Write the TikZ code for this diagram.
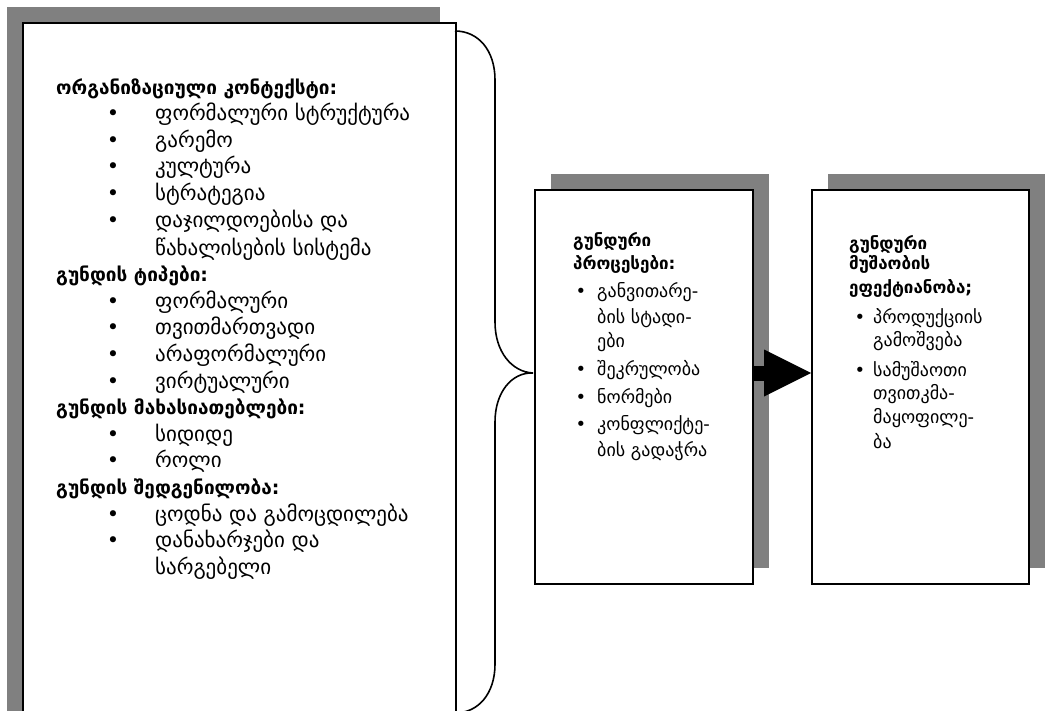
\documentclass[tikz,border=0pt]{standalone}
\usepackage{fontspec}
\setmainfont{DejaVu Sans}
\usetikzlibrary{calc,shadows,arrows.meta}
\definecolor{shadowgray}{RGB}{128,128,128}
\newcommand*{\LineColumn}[3]{% #1 = list of y/text, #2 = x, #3 = name
\foreach \y/\text [count=\i] in {#1} {
\node [textline] (#3-\i)
at (#2,\y) {\text};
}%
}
\newcommand*{\BulletColumn}[3]{% #1 = list of y, #2 = x, #3 = name
\foreach \y [count=\i] in {#1} {
\node [dot] (#3-\i)
at (#2,\y) {\textbullet};
}%
}

\begin{document}
\begin{tikzpicture}[x=1pt,y=-1pt,
    box/.style={draw, line width=2pt, fill=white, anchor=north west, inner sep=0pt},
    textline/.style={anchor=base west, inner sep=0pt},
    dot/.style={anchor=base, inner sep=0pt},
    blockarrow/.style={line width=15pt, -{Triangle[length=47pt,width=47pt,line width=0pt]}},
    brace/.style={line width=1.6pt}]

            \useasboundingbox (0,0) rectangle (1048,711);

            % boxes with shadows
            \node [box, minimum width=433pt, minimum height=740pt,
                drop shadow={shadow xshift=-16pt, shadow yshift=16pt, opacity=1, fill=shadowgray}]
                (ctx) at (22,22) {};
            \node [box, minimum width=218pt, minimum height=394pt,
                drop shadow={shadow xshift=16pt, shadow yshift=16pt, opacity=1, fill=shadowgray}]
                (proc) at (534,189) {};
            \node [box, minimum width=217pt, minimum height=394pt,
                drop shadow={shadow xshift=16pt, shadow yshift=16pt, opacity=1, fill=shadowgray}]
                (eff) at (811,189) {};

            % left box
            \begin{scope}[font=\fontsize{19}{23}\selectfont\bfseries]
            \LineColumn{95/{ორგანიზაციული კონტექსტი:},
                281/{გუნდის ტიპები:},
                414/{გუნდის მახასიათებლები:},
                494/{გუნდის შედგენილობა:}}{56}{ctxhead}
            \end{scope}
            \begin{scope}[font=\fontsize{21}{25}\selectfont]
            \LineColumn{121/{ფორმალური სტრუქტურა},148/{გარემო},174/{კულტურა},
                201/{სტრატეგია},228/{დაჯილდოებისა და},255/{წახალისების სისტემა},
                308/{ფორმალური},334/{თვითმართვადი},361/{არაფორმალური},
                388/{ვირტუალური},441/{სიდიდე},467/{როლი},
                521/{ცოდნა და გამოცდილება},547/{დანახარჯები და},574/{სარგებელი}}{155}{ctxitem}
            \BulletColumn{121,148,174,201,228,308,334,361,388,441,467,521,547}{113}{ctxdot}
            \end{scope}

            % middle box
            \begin{scope}[font=\fontsize{17}{21}\selectfont\bfseries]
            \LineColumn{247/{გუნდური},269/{პროცესები:}}{573}{prochead}
            \end{scope}
            \begin{scope}[font=\fontsize{18}{22}\selectfont]
            \LineColumn{297/{განვითარე-},323/{ბის სტადი-},347/{ები},
                375/{შეკრულობა},403/{ნორმები},
                430/{კონფლიქტე-},456/{ბის გადაჭრა}}{597}{procitem}
            \BulletColumn{297,375,403,430}{581}{procdot}
            \end{scope}

            % right box
            \begin{scope}[font=\fontsize{17}{21}\selectfont\bfseries]
            \LineColumn{249/{გუნდური},269/{მუშაობის},
                293/{ეფექტიანობა;}}{849}{effhead}
            \end{scope}
            \begin{scope}[font=\fontsize{18}{22}\selectfont]
            \LineColumn{323/{პროდუქციის},346/{გამოშვება},
                376/{სამუშაოთი},399/{თვითკმა-},423/{მაყოფილე-},448/{ბა}}{873}{effitem}
            \BulletColumn{323,376}{860}{effdot}
            \end{scope}

            % brace and arrow
            \coordinate (tip) at ($(proc.west)+(-1,-14)$);
            \draw [brace] (455,31) .. controls (478,31) and (495,50) .. (495,80)
                -- (495,322) .. controls (495,352) and (512,372) .. (tip)
                .. controls (512,372) and (495,392) .. (495,422)
                -- (495,664) .. controls (495,694) and (478,713) .. (455,713);
            \draw [blockarrow] ($(proc.east)+(0,-14)$) -- ($(eff.west)+(0,-14)$);
        \end{tikzpicture}
\end{document}
